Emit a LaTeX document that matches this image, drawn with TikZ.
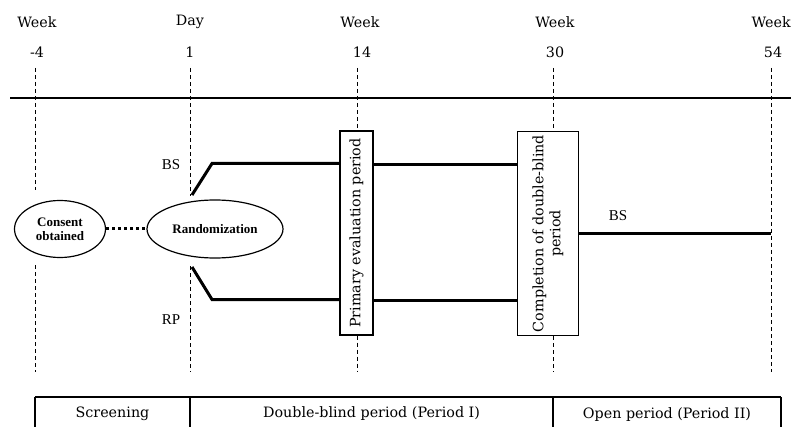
\documentclass[tikz,border=0pt]{standalone}
\usepackage{fontspec}
\setmainfont{DejaVu Serif}
\newfontfamily\timesf{Liberation Serif}
\usetikzlibrary{shapes.geometric}
\begin{document}
\begin{tikzpicture}[x=1pt,y=-1pt,
  lbl/.style={font=\fontsize{14.3}{17}\selectfont, inner sep=0pt},
  ell/.style={ellipse, draw, line width=1.2pt, inner sep=0pt, font=\timesf\bfseries\fontsize{13}{14}\selectfont, align=center},
  vbox/.style={draw, line width=1.1pt, rotate=90, inner sep=1pt, font=\fontsize{14.3}{17}\selectfont, align=center},
  heavyline/.style={line width=3pt, line join=miter},
  dashline/.style={line width=1pt, dash pattern=on 4pt off 3pt},
  arm/.style={font=\timesf\fontsize{15}{17}\selectfont, inner sep=0pt}]
\useasboundingbox (0,0) rectangle (791,427);
% top labels
\node[lbl] (w1) at (37,22) {Week};
\node[lbl] (w2) at (190,22) {Day};
\node[lbl] (w3) at (360,22) {Week};
\node[lbl] (w4) at (555,22) {Week};
\node[lbl, anchor=east] (w5) at (791,22) {Week};
\node[lbl] (n1) at (37,52) {-4};
\node[lbl] (n2) at (190,52) {1};
\node[lbl] (n3) at (362,52) {14};
\node[lbl] (n4) at (555,52) {30};
\node[lbl] (n5) at (773,52) {54};
% horizontal axis
\coordinate (hl) at (10,98);
\coordinate (hr) at (791,98);
\draw[line width=1.3pt] (hl) -- (hr);
% ellipses
\node[ell, minimum width=91pt, minimum height=57pt] (cons) at (60,229) {Consent\\obtained};
\node[ell, minimum width=136pt, minimum height=58pt] (rand) at (215,229) {Randomization};
\draw[line width=3pt, dash pattern=on 3pt off 3pt] (cons.east) -- (rand.west);
% boxes
\node[vbox, minimum width=204pt, minimum height=33pt] (pep) at (356.5,233) {Primary evaluation period};
\node[vbox, minimum width=204pt, minimum height=61pt] (cdb) at (548,233.5) {Completion of double-blind\\period};
% dashed verticals
\coordinate (a1) at (35,68); \coordinate (a2) at (35,190);
\coordinate (a3) at (35,265); \coordinate (a4) at (35,372);
\draw[dashline] (a1) -- (a2) (a3) -- (a4);
\coordinate (b1) at (190,68); \coordinate (b2) at (190,196);
\coordinate (b3) at (190,266); \coordinate (b4) at (190,372);
\draw[dashline] (b1) -- (b2) (b3) -- (b4);
\coordinate (c1) at (357,68); \coordinate (c4) at (357,372);
\draw[dashline] (c1) -- (pep.east -| c1) (pep.west -| c1) -- (c4);
\coordinate (d1) at (553,68); \coordinate (d4) at (553,372);
\draw[dashline] (d1) -- (cdb.east -| d1) (cdb.west -| d1) -- (d4);
\coordinate (e1) at (771,68); \coordinate (e4) at (771,372);
\draw[dashline] (e1) -- (e4);
% arms
\coordinate (bs0) at (192,195); \coordinate (bs1) at (212,163.5);
\coordinate (rp0) at (192,267); \coordinate (rp1) at (212,299.5);
\coordinate (bsy) at (0,164.5); \coordinate (rpy) at (0,300.5);
\draw[heavyline] (bs0) -- (bs1) -- (bs1 -| pep.north);
\draw[heavyline] (pep.south |- bsy) -- (cdb.north |- bsy);
\draw[heavyline] (rp0) -- (rp1) -- (rp1 -| pep.north);
\draw[heavyline] (pep.south |- rpy) -- (cdb.north |- rpy);
\coordinate (bsend) at (771,233.5);
\draw[heavyline] (cdb.south |- bsend) -- (bsend);
\node[arm] (bsl) at (171,165) {BS};
\node[arm] (rpl) at (171,320) {RP};
\node[arm] (bsr) at (618,216) {BS};
% bottom table
\coordinate (t1) at (35,397); \coordinate (t4) at (781,397);
\coordinate (t2) at (190,397); \coordinate (t3) at (553,397);
\draw[line width=1.2pt] (t1) -- (t4);
\draw[line width=1.2pt] (t1) -- ++(0,40) (t2) -- ++(0,40) (t3) -- ++(0,40) (t4) -- ++(0,40);
\node[lbl] (s1) at (112.5,414) {Screening};
\node[lbl] (s2) at (371.5,414) {Double-blind period (Period I)};
\node[lbl] (s3) at (667,415) {Open period (Period II)};
\end{tikzpicture}
\end{document}
